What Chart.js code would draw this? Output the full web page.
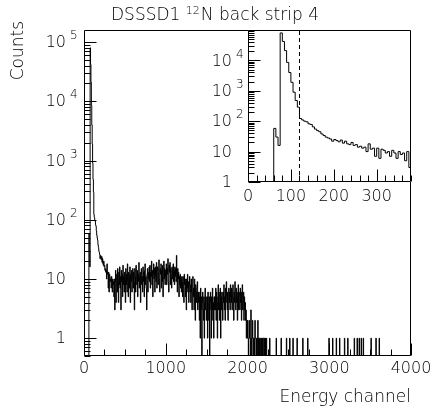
<!DOCTYPE html>
<html><head><meta charset="utf-8">
<script src="https://cdn.jsdelivr.net/npm/chart.js@4.4.1/dist/chart.umd.min.js"></script>
<style>
html,body{margin:0;padding:0;background:#fff;}
#wrap{position:relative;width:433px;height:411px;}
canvas{position:absolute;left:0;top:0;}
</style></head><body>
<div id="wrap"><canvas id="main" width="433" height="411"></canvas><canvas id="inset" width="433" height="411"></canvas></div>
<script>
// ---------- data ----------
const binWidth = 5; // channels per bin
const counts = [
0,0,0,0,0,0,0,0,0,0,0,0,58,30,16,80000,42000,21000,8600,4000,
1900,900,480,290,123,110,100,95,82,78,65,55,49,45,38,34,30,28,26,22,
25,23,21,24,19,22,18,17,20,16,17,14,15,13,14,10,18,12,13,7,
13,6,12,11,9,10,7,11,9,6,10,8,9,5,10,3,9,14,4,10,
12,6,15,9,4,13,8,16,7,11,3,14,9,12,5,17,8,11,6,13,
10,4,15,8,12,6,18,9,5,13,11,7,16,4,12,9,14,6,10,15,
7,13,9,3,15,11,6,17,10,8,14,5,12,9,19,7,11,13,4,12,
15,8,11,6,16,9,13,5,14,18,8,11,7,3,12,15,6,13,10,16,
9,17,7,13,11,20,8,14,5,12,18,10,15,6,16,11,9,19,7,14,
16,8,13,21,10,6,15,12,18,7,14,9,17,5,13,20,10,15,8,14,
11,18,8,15,12,22,9,6,17,13,19,8,15,11,7,16,10,14,18,9,
14,8,16,11,15,9,25,12,6,15,10,13,5,11,8,12,7,10,6,11,
9,5,11,7,4,12,8,10,5,9,3,10,7,12,6,9,4,8,11,6,
8,4,10,6,3,9,11,5,7,3,10,5,2,8,6,4,7,9,3,6,
4,6,2,5,1,7,3,5,0,4,6,3,2,5,1,4,7,3,5,2,
3,5,1,6,4,2,5,0,3,6,4,1,5,3,7,2,4,1,5,3,
5,3,7,2,6,4,1,5,8,3,6,2,4,7,1,5,3,6,4,2,
6,4,8,3,5,2,7,4,9,5,3,6,2,5,7,4,6,3,8,5,
4,7,3,6,8,5,2,6,4,9,5,3,7,4,6,2,5,8,3,6,
5,3,7,4,6,2,5,8,3,4,6,2,5,3,4,2,3,1,2,1,
2,1,0,1,2,1,1,0,3,1,0,1,2,1,0,1,1,0,2,1,
1,0,1,1,0,2,1,0,1,0,1,1,0,0,1,0,1,0,1,1,
0,1,0,1,0,0,1,0,0,0,0,0,0,0,1,0,0,0,0,0,
0,0,0,0,0,0,0,0,0,0,1,0,0,0,0,0,0,0,0,0,
0,0,1,0,0,0,0,0,0,0,0,0,0,0,0,1,0,0,0,0,
0,0,0,1,0,0,0,0,0,0,0,1,0,0,0,0,0,0,0,0,
0,1,0,0,0,0,0,0,0,0,0,0,0,0,0,1,0,0,0,0,
0,0,0,0,0,0,0,1,0,0,0,0,0,0,0,0,0,0,0,0,
0,0,0,0,0,0,0,0,0,0,0,0,0,0,0,0,0,0,0,0,
0,0,0,0,0,0,0,0,0,0,0,0,0,0,0,0,0,0,0,1,
0,0,0,0,0,0,0,0,1,0,0,0,0,0,0,0,0,1,0,0,
0,0,0,0,0,1,0,0,0,0,0,0,0,0,0,0,0,1,0,0,
0,0,0,0,0,1,0,0,0,0,0,0,0,0,0,0,0,0,0,0,
0,1,0,0,0,0,0,0,1,0,0,0,0,1,0,0,0,0,1,0,
0,0,0,1,0,0,0,0,0,0,0,0,0,0,0,0,0,0,0,0,
0,0,1,0,0,0,0,0,0,0,0,0,0,0,1,0,0,0,0,0,
0,0,1,0,0,0,0,0,0,0,0,0,0,0,0,0,0,0,0,0,
0,0,0,0,0,0,0,0,0,0,0,0,0,0,0,0,0,0,0,0,
0,0,0,0,0,0,0,0,0,0,0,0,0,0,0,0,0,0,0,0,
0,0,0,0,0,0,0,0,0,0,0,0,0,0,0,0,0,0,0,0
];
const mainRange = [0, 4000];
const insetRange = [0, 380];
const insetCut = 120;
const mainXTicks = [0,1000,2000,3000,4000];
const mainYTicks = [1,10,100,1000,10000,100000];
const mainYLabels = [['1',''],['10',''],['10','2'],['10','3'],['10','4'],['10','5']];
const insetXTicks = [0,100,200,300];
const insetYTicks = [1,10,100,1000,10000];
const insetYLabels = [['1',''],['10',''],['10','2'],['10','3'],['10','4']];
const titleParts = ['DSSSD1 ', '12', 'N back strip 4'];
const xTitle = 'Energy channel';
const yTitle = 'Counts';

// ---------- helpers ----------
const FAM = '"DejaVu Sans"';
const FONT = '200 16px ' + FAM;
const TFONT = '200 17px ' + FAM;
const SUPFONT = '200 11px ' + FAM;
const SUPFONT2 = '200 12px ' + FAM;
function histPoints(cs, w, range, floor) {
  const pts = [];
  for (let i = 0; i < cs.length; i++) {
    const x0 = i * w;
    if (x0 >= range[1]) break;
    pts.push({x: x0, y: cs[i] > 0 ? cs[i] : floor});
  }
  const last = pts[pts.length - 1].y;
  pts.push({x: range[1], y: last});
  return pts;
}
function drawAxes(chart, cfg) {
  const ctx = chart.ctx, ca = chart.chartArea;
  const xs = chart.scales.x, ys = chart.scales.y;
  ctx.save();
  ctx.strokeStyle = '#000'; ctx.lineWidth = 1;
  const L = Math.round(ca.left) + 0.5, R = Math.round(ca.right) - 0.5;
  const T = Math.round(ca.top) + 0.5, B = Math.round(ca.bottom) - 0.5;
  ctx.beginPath(); ctx.rect(L, T, R - L, B - T); ctx.stroke();
  ctx.beginPath();
  for (let v = xs.min; v <= xs.max + 1e-9; v += cfg.xMinor) {
    const X = Math.round(xs.getPixelForValue(v)) + 0.5;
    const major = cfg.xTicks.includes(v);
    ctx.moveTo(X, B); ctx.lineTo(X, B - (major ? cfg.majorLen : cfg.minorLen));
  }
  const e0 = Math.floor(Math.log10(ys.min)), e1 = Math.ceil(Math.log10(ys.max));
  for (let e = e0; e <= e1; e++) for (let m = 1; m <= 9; m++) {
    const v = m * Math.pow(10, e);
    if (v < ys.min * 0.9999 || v > ys.max * 1.0001) continue;
    const Y = Math.round(ys.getPixelForValue(v)) + 0.5;
    ctx.moveTo(L, Y); ctx.lineTo(L + (m === 1 ? cfg.majorLen : cfg.minorLen), Y);
  }
  ctx.stroke();
  ctx.fillStyle = '#000';
  ctx.font = FONT; ctx.textAlign = 'center'; ctx.textBaseline = 'middle';
  cfg.xTicks.forEach(v => ctx.fillText(String(v), xs.getPixelForValue(v), cfg.xLabelY));
  cfg.yTicks.forEach((v, i) => {
    const Y = ys.getPixelForValue(v);
    const [base, exp] = cfg.yLabels[i];
    ctx.font = FONT; ctx.textAlign = 'right'; ctx.textBaseline = 'middle';
    ctx.fillText(base, cfg.yLabelRight, Y + 1);
    if (exp) { ctx.font = SUPFONT2; ctx.textAlign = 'left'; ctx.fillText(exp, cfg.yLabelRight + 4, Y - 6); }
  });
  ctx.restore();
}

const mainPlugin = {
  id: 'mainAxes',
  afterDatasetsDraw(chart) {
    drawAxes(chart, {xMinor: 250, xTicks: mainXTicks, yTicks: mainYTicks, yLabels: mainYLabels,
      majorLen: 12, minorLen: 6, xLabelY: 369, yLabelRight: 66});
    const ctx = chart.ctx;
    ctx.save();
    ctx.fillStyle = '#000'; ctx.textBaseline = 'alphabetic'; ctx.textAlign = 'left';
    ctx.font = TFONT; const w1 = ctx.measureText(titleParts[0]).width, w3 = ctx.measureText(titleParts[2]).width;
    ctx.font = SUPFONT; const w2 = ctx.measureText(titleParts[1]).width;
    let x = 215 - (w1 + w2 + w3 + 1) / 2;
    ctx.font = TFONT; ctx.fillText(titleParts[0], x, 20); x += w1;
    ctx.font = SUPFONT; ctx.fillText(titleParts[1], x, 14); x += w2 + 1;
    ctx.font = TFONT; ctx.fillText(titleParts[2], x, 20);
    ctx.textAlign = 'right'; ctx.textBaseline = 'middle';
    ctx.fillText(xTitle, 411, 398);
    ctx.translate(19, 21); ctx.rotate(-Math.PI / 2);
    ctx.textAlign = 'right'; ctx.fillText(yTitle, 0, 0);
    ctx.restore();
  }
};
const insetPlugin = {
  id: 'insetAxes',
  beforeDatasetsDraw(chart) {
    const ca = chart.chartArea, ctx = chart.ctx;
    ctx.save(); ctx.fillStyle = '#fff'; ctx.fillRect(ca.left, ca.top, ca.right - ca.left, ca.bottom - ca.top); ctx.restore();
  },
  afterDatasetsDraw(chart) {
    const ctx = chart.ctx, ca = chart.chartArea, xs = chart.scales.x;
    ctx.save();
    ctx.strokeStyle = '#000'; ctx.lineWidth = 1; ctx.setLineDash([4, 3]);
    const X = Math.round(xs.getPixelForValue(insetCut)) + 0.5;
    ctx.beginPath(); ctx.moveTo(X, ca.bottom); ctx.lineTo(X, ca.top); ctx.stroke();
    ctx.restore();
    drawAxes(chart, {xMinor: 20, xTicks: insetXTicks, yTicks: insetYTicks, yLabels: insetYLabels,
      majorLen: 12, minorLen: 6, xLabelY: 197, yLabelRight: 232});
  }
};

const lineDs = (pts) => ({data: pts, borderColor: '#000', borderWidth: 1, stepped: true,
  pointRadius: 0, fill: false, tension: 0});
const commonOpts = {responsive: false, animation: false, events: [], devicePixelRatio: 1,
  plugins: {legend: {display: false}, tooltip: {enabled: false}, title: {display: false}}};

const mainYMin = 0.5, mainYMax = 1.6e5;
new Chart(document.getElementById('main'), {
  type: 'line',
  data: {datasets: [lineDs(histPoints(counts, binWidth, mainRange, mainYMin))]},
  options: Object.assign({}, commonOpts, {
    layout: {padding: {left: 84, right: 22, top: 30, bottom: 55}},
    scales: {
      x: {type: 'linear', min: mainRange[0], max: mainRange[1], display: false, bounds: 'data'},
      y: {type: 'logarithmic', min: mainYMin, max: mainYMax, display: false, bounds: 'data'}
    }
  }),
  plugins: [mainPlugin]
});
const insetYMin = 1, insetYMax = 1e5;
new Chart(document.getElementById('inset'), {
  type: 'line',
  data: {datasets: [lineDs(histPoints(counts, binWidth, insetRange, insetYMin))]},
  options: Object.assign({}, commonOpts, {
    layout: {padding: {left: 248, right: 22, top: 30, bottom: 229}},
    scales: {
      x: {type: 'linear', min: insetRange[0], max: insetRange[1], display: false, bounds: 'data'},
      y: {type: 'logarithmic', min: insetYMin, max: insetYMax, display: false, bounds: 'data'}
    }
  }),
  plugins: [insetPlugin]
});
</script>
</body></html>
